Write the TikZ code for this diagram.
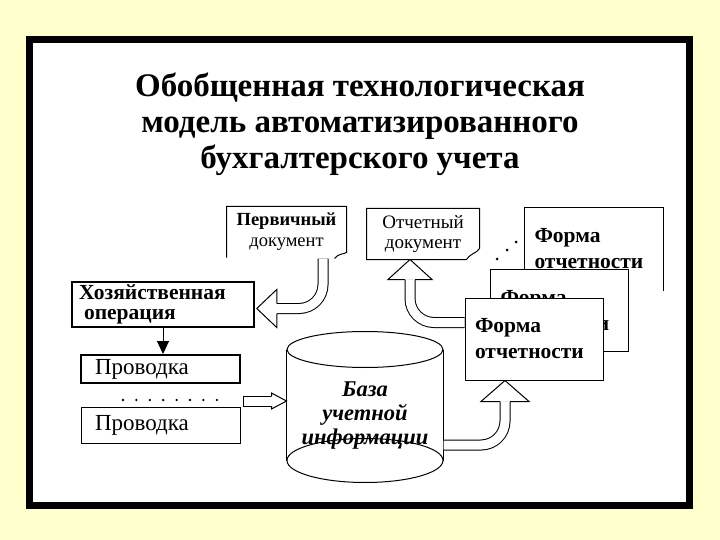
\documentclass[tikz,border=0pt]{standalone}
\usepackage{fontspec}
\setmainfont{Liberation Serif}
\usetikzlibrary{calc,arrows.meta}

\definecolor{paper}{RGB}{255,255,204}
\newcommand{\fsz}[2]{\fontsize{#1}{#2}\selectfont}

\begin{document}
\begin{tikzpicture}[x=1pt, y=-1pt, line width=1pt,
  hollow/.style={double=white, double distance=9pt, line width=1pt, rounded corners=24pt},
  form/.style={draw, fill=white, minimum width=138pt, minimum height=82pt, text width=118pt,
    inner xsep=10pt, align=left, font=\fsz{21.5}{26}\bfseries},
  prov/.style={draw, text width=131pt, inner xsep=14pt, inner ysep=2pt, align=left, font=\fsz{23}{24}},
  pics/hhead/.style 2 args={code={
    \filldraw[fill=white, line width=1pt] (-#1,-5) -- (-#1,-#2) -- (0,0) -- (-#1,#2) -- (-#1,5);}}]
% page and frame
\fill[paper] (0,0) rectangle (720,540);
\draw[line width=7pt, fill=white] (29.5,40) rectangle (689.5,505);

\node (title) [align=center, font=\fsz{33}{36}\bfseries] at (360,124)
  {Обобщенная технологическая\\модель автоматизированного\\бухгалтерского учета};

% documents
\node (perv) [minimum width=119pt, minimum height=50pt, inner sep=0pt, align=center, font=\fsz{18.5}{21}] at (286.5,232) {\textbf{Первичный}\\документ};
\draw (perv.south west) -- (perv.north west) -- (perv.north east) -- ($(perv.south east)+(0,-5)$)
  .. controls ($(perv.south east)+(-4,-3)$) and ($(perv.south east)+(-8,-4)$) .. ($(perv.south east)+(-12,1)$);
\node (otch) [minimum width=112pt, minimum height=50pt, inner sep=0pt, align=center, font=\fsz{19}{20}] at (423,234) {Отчетный\\документ};
\draw (otch.south west) -- (otch.north west) -- (otch.north east) -- ($(otch.south east)+(0,-11)$)
  .. controls ($(otch.south east)+(-3,-6)$) and ($(otch.south east)+(-8,-7)$) .. ($(otch.south east)+(-13,0)$) -- cycle;

% left column
\node (hoz) [draw, line width=2.5pt, minimum height=45pt, text width=168pt, inner xsep=7pt, inner ysep=1pt, align=left, font=\fsz{21.5}{20}\bfseries] at (163,304.5) {Хозяйственная\\\hspace*{5pt}операция};
\node (prov1) [prov, line width=2pt, minimum height=28pt] at (160.5,369) {Проводка};
\node (prov2) [prov, minimum height=36pt] at (160.5,425) {Проводка};
\foreach \i in {0,...,7} \fill (123+13.4*\i,400) circle (1.3pt);
\draw[-{Triangle[length=13pt,width=12pt]}] (hoz.south) -- (hoz.south |- prov1.north);

% data base
\node (baza) [minimum width=156pt, minimum height=110pt] at (365,405) {};
\draw (baza.north west) -- (baza.south west);
\draw (baza.north east) -- (baza.south east);
\draw (baza.north) ellipse [x radius=78, y radius=18];
\draw (baza.south) ellipse [x radius=78, y radius=22];
\node (bazatxt) [align=center, font=\fsz{22.5}{24}\bfseries\itshape] at (365,416) {База\\учетной\\информации};

% report forms
\node (formc) [form, draw=none] at (593.5,249) {Форма\\отчетности};
\draw (formc.south west) -- (formc.north west) -- (formc.north east) -- (formc.south east);
\node (formb) [form] at (559.5,310.5) {Форма\\отчетности};
\foreach \p in {(497,259),(507,250),(516,242)} \fill \p circle (1.5pt);

% hollow arrows
\coordinate (pervout) at ($(perv.south)+(36.5,1)$);
\coordinate (hozin) at ($(hoz.east)+(1.5,4)$);
\draw[hollow] (pervout) |- ($(hozin)+(20,0)$);
\pic[rotate=180] at (hozin) {hhead={20}{19}};

\coordinate (provout) at (243,401);
\coordinate (bazain) at ($(baza.west)+(0,-4)$);
\draw[hollow] (provout) -- ($(bazain)+(-15,0)$);
\draw ($(provout)+(0,-5.5)$) -- ($(provout)+(0,5.5)$);
\pic at (bazain) {hhead={15}{8}};

\node (forma) [form] at (534,339) {Форма\\отчетности};

\coordinate (bazaout) at ($(baza.east)+(0,40)$);
\coordinate (formin) at ($(forma.south west)+(40.5,0)$);
\draw[hollow] (bazaout) -| ($(formin)+(0,21)$);
\pic[rotate=90] at (formin) {hhead={21}{24}};

\coordinate (formout) at ($(forma.west)+(0,-16.5)$);
\coordinate (otchin) at ($(otch.south)+(-13,0)$);
\draw[hollow] (formout) -| ($(otchin)+(0,20)$);
\pic[rotate=90] at (otchin) {hhead={20}{22}};
\end{tikzpicture}
\end{document}
